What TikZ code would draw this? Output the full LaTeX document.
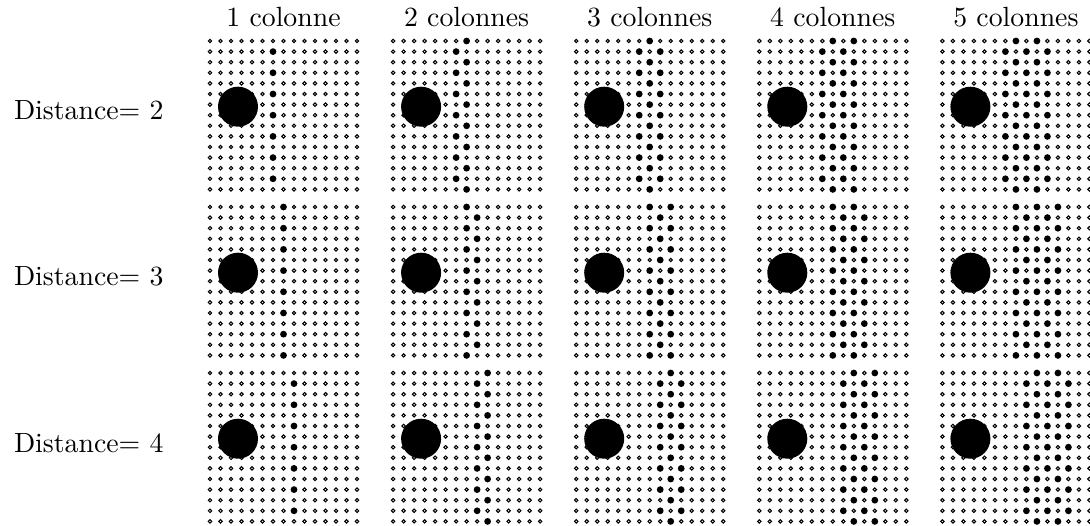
\documentclass[tikz,border=0pt]{standalone}
\usepackage{tikz}
\usetikzlibrary{positioning}
\tikzset{
  vide/.style={draw=black,fill=white,line width=0.38pt},
  plein/.style={fill=black},
  disque/.style={fill=black},
  entete/.style={anchor=base,inner sep=0pt},
  etiquette/.style={anchor=base east,inner sep=0pt}
}
\begin{document}
\begin{tikzpicture}[x=0.36pt,y=-0.36pt]
 \useasboundingbox (0,0) rectangle (1090,526);
 % titres des colonnes
 \foreach \n in {1,...,5}{
   \pgfmathsetmacro{\xc}{283.5+183.1*(\n-1)}
   \ifnum\n=1
     \node[entete] (col\n) at (\xc,26.7) {\n{} colonne};
   \else
     \node[entete] (col\n) at (\xc,26.7) {\n{} colonnes};
   \fi
 }
 % une ligne par distance
 \foreach \d in {2,3,4}{
   \pgfmathsetmacro{\yo}{41+166*(\d-2)}
   \node[etiquette] (dist\d) at (164,\yo+79) {Distance$=$ \d};
   \foreach \n in {1,...,5}{
     \pgfmathsetmacro{\xo}{210+183.1*(\n-1)}
     \foreach \i in {0,...,14}{
       \foreach \j in {0,...,14}{
         \pgfmathtruncatemacro{\on}{and(and(\i>=\d+4,\i<=\d+3+\n),mod(\i+\j,2)==1)}
         \ifnum\on=1
           \fill[plein] (\xo+10.5*\i,\yo+10.6*\j) circle (3.4);
         \else
           \draw[vide] (\xo+10.5*\i,\yo+10.6*\j) circle (1.7);
         \fi
       }
     }
     \fill[disque] (\xo+28,\yo+65.7) circle (20);
   }
 }
\end{tikzpicture}
\end{document}
